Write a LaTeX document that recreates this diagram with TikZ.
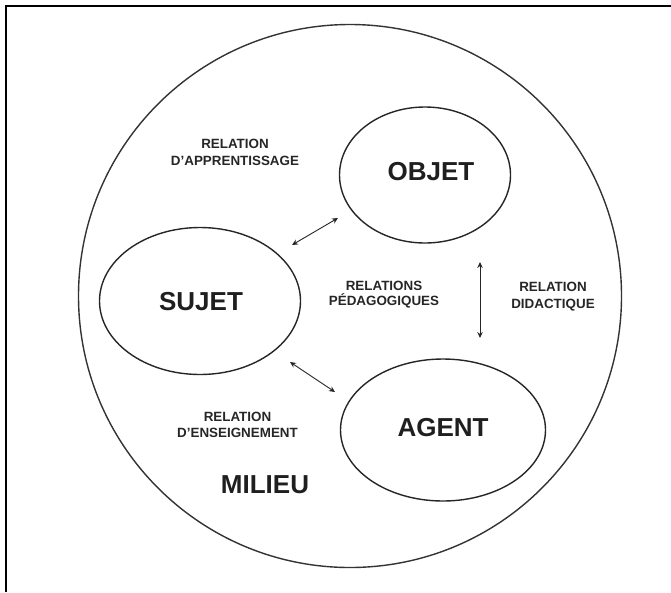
\documentclass[tikz,border=0pt]{standalone}
\usepackage{fontspec}
\setmainfont{Liberation Sans}
\usetikzlibrary{shapes.geometric,arrows.meta}
\begin{document}
\begin{tikzpicture}[x=1pt,y=-1pt,
  ring/.style={ellipse,draw=black!85,line width=1.4pt,inner sep=0pt},
  big/.style={font=\fontsize{26}{30}\selectfont\bfseries,text=black!88,inner sep=0pt},
  lab/.style={font=\fontsize{13.4}{#1}\selectfont\bfseries,text=black!85,align=center,inner sep=0pt},
  dbl/.style={{Stealth[length=6pt,width=5.5pt]}-{Stealth[length=6pt,width=5.5pt]},line width=0.9pt,draw=black!85}]
\useasboundingbox (0,0) rectangle (671,592);
\draw[line width=1.4pt] (6,592) -- (6,6) -- (671,6);
\node[circle,draw=black!80,line width=1.4pt,minimum size=543pt,inner sep=0pt] (outer) at (350,296) {};
\node[ring,minimum width=171pt,minimum height=136pt] (objet) at (425,175) {};
\node[ring,minimum width=201pt,minimum height=147pt] (sujet) at (200,301) {};
\node[ring,minimum width=205pt,minimum height=142pt] (agent) at (443,430) {};
\node[big] (tobjet) at (431,172) {OBJET};
\node[big] (tsujet) at (201,302) {SUJET};
\node[big] (tagent) at (443,428) {AGENT};
\node[big] (milieu) at (265,485) {MILIEU};
\node[lab=17.5] (appr) at (235,152.5) {RELATION\\D’APPRENTISSAGE};
\node[lab=15] (peda) at (384,295) {RELATIONS\\PÉDAGOGIQUES};
\node[lab=17] (dida) at (553,296.5) {RELATION\\DIDACTIQUE};
\node[lab=16] (ense) at (237.5,425) {RELATION\\D’ENSEIGNEMENT};
\coordinate (so1) at (292,245);
\coordinate (so2) at (338,218);
\coordinate (sa1) at (290,362);
\coordinate (sa2) at (335,392);
\coordinate (oa1) at (480,262);
\coordinate (oa2) at (480,338);
\draw[dbl] (so1) -- (so2);
\draw[dbl] (sa1) -- (sa2);
\draw[dbl] (oa1) -- (oa2);
\end{tikzpicture}
\end{document}
